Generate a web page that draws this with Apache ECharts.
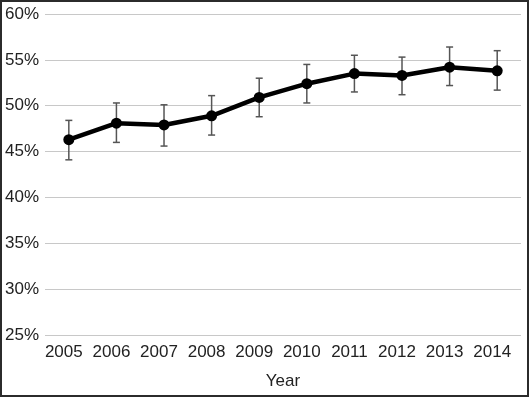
<!DOCTYPE html>
<html lang="en">
<head>
<meta charset="UTF-8">
<title>Year</title>
<script src="https://cdn.jsdelivr.net/npm/echarts@6/dist/echarts.min.js"></script>
<style>
	html, body { margin: 0; padding: 0; background: #fff; }
	#main {
		width: 529px;
		height: 397px;
		box-sizing: border-box;
		border: 2px solid #2b2b2b;
	}
</style>
</head>
<body>
<div id="main"></div>
<script>
	// data (percent)
	let years = ["2005", "2006", "2007", "2008", "2009", "2010", "2011", "2012", "2013", "2014"];
	let values = [46.3, 48.1, 47.9, 48.9, 50.9, 52.4, 53.5, 53.3, 54.2, 53.8];
	let lower = [44.1, 46.0, 45.6, 46.8, 48.8, 50.3, 51.5, 51.2, 52.2, 51.7];
	let upper = [48.4, 50.3, 50.1, 51.1, 53.0, 54.5, 55.5, 55.3, 56.4, 56.0];
	let yTicks = { min: 25, max: 60, step: 5 };

	let errData = years.map((y, i) => [i, lower[i], upper[i]]);

	function renderErr(params, api) {
		let x = api.value(0);
		let lo = api.coord([x, api.value(1)]);
		let hi = api.coord([x, api.value(2)]);
		let cap = 3.5;
		let style = { stroke: '#555', lineWidth: 1.5 };
		return {
			type: 'group',
			children: [
				{ type: 'line', shape: { x1: lo[0], y1: lo[1], x2: hi[0], y2: hi[1] }, style: style },
				{ type: 'line', shape: { x1: hi[0] - cap, y1: hi[1], x2: hi[0] + cap, y2: hi[1] }, style: style },
				{ type: 'line', shape: { x1: lo[0] - cap, y1: lo[1], x2: lo[0] + cap, y2: lo[1] }, style: style }
			]
		};
	}

	let chart = echarts.init(document.getElementById("main"));
	let font = 'Liberation Sans, Arial, sans-serif';
	chart.setOption({
		animation: false,
		grid: { left: 43, right: 6, top: 12, bottom: 56 },
		xAxis: {
			type: 'category',
			data: years,
			name: 'Year',
			nameLocation: 'middle',
			nameGap: 38,
			nameTextStyle: { fontFamily: font, fontSize: 17, color: '#222' },
			axisLine: { show: false },
			axisTick: { show: false },
			axisLabel: { interval: 0, hideOverlap: false, fontFamily: font, fontSize: 17, color: '#222', margin: 9, padding: [0, 10, 0, 0] }
		},
		yAxis: {
			type: 'value',
			min: yTicks.min,
			max: yTicks.max,
			interval: yTicks.step,
			axisLine: { show: false },
			axisTick: { show: false },
			axisLabel: { fontFamily: font, fontSize: 17, color: '#222', margin: 6, formatter: '{value}%' },
			splitLine: { lineStyle: { color: '#c8c8c8', width: 1 } }
		},
		series: [
			{
				type: 'custom',
				renderItem: renderErr,
				data: errData,
				z: 1
			},
			{
				type: 'line',
				data: values,
				symbol: 'circle',
				symbolSize: 11,
				lineStyle: { color: '#000', width: 4.5 },
				itemStyle: { color: '#000' },
				z: 2
			}
		]
	});
</script>
</body>
</html>
